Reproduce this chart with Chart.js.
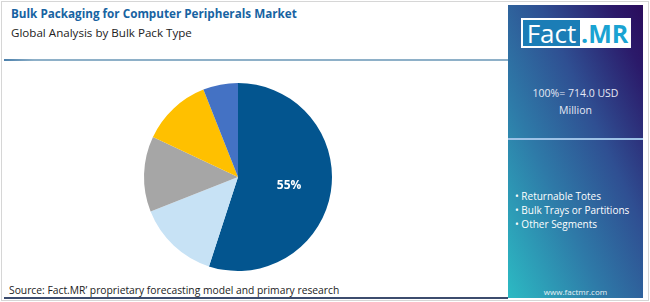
<!DOCTYPE html>
<html>
<head>
<meta charset="utf-8">
<script src="https://cdn.jsdelivr.net/npm/chart.js@4.4.0/dist/chart.umd.min.js"></script>
<style>
  html, body { margin: 0; padding: 0; background: #fff; }
  body { width: 650px; height: 302px; position: relative; overflow: hidden; font-family: 'Open Sans', sans-serif; }
  .frame { position: absolute; left: 1px; top: 1px; width: 646px; height: 298px; border: 1px solid #d6d6d6; }
  .title { position: absolute; left: 11px; top: 5px; font-size: 11.7px; font-weight: 700; color: #1763a2; white-space: nowrap; }
  .subtitle { position: absolute; left: 11px; top: 25px; font-size: 11.6px; color: #222; white-space: nowrap; }
  .rule { position: absolute; left: 4px; top: 59px; width: 504px; height: 2px; background: linear-gradient(to right, #4a7fab 0, #8eb0c8 30px, #8eb0c8 100%); }
  .source { position: absolute; left: 9px; top: 283px; font-size: 10.3px; color: #222; white-space: nowrap; }
  .bottom-rule { position: absolute; left: 4px; top: 297px; width: 504px; height: 2px; background: #3c4c6e; }
  .panel { position: absolute; left: 508px; top: 5px; width: 135px; height: 293px;
    background: linear-gradient(to top right, #2cbac3 0%, #2e7aa8 35%, #2f4f92 62%, #2b1a6a 88%, #2a0c5c 100%); }
  .sep { position: absolute; left: 0; top: 133px; width: 135px; height: 2px; background: #9ec2e6; }
  .logo { position: absolute; left: 13px; top: 13px; width: 110px; height: 30px; background: #fff; }
  .logo .fact { position: absolute; left: 2px; top: 2px; width: 57px; height: 26px; background: #1b7db6; color: #fff;
    font-size: 26px; line-height: 26px; text-align: center; }
  .logo .mr { position: absolute; left: 60px; top: 2px; height: 26px; color: #1aa3d2; font-size: 25px; line-height: 26px; font-weight: 700; }
  .total { position: absolute; left: 0; top: 80px; width: 135px; text-align: center; color: #e6e8f4; font-size: 10.5px; line-height: 17px; }
  .bullets { position: absolute; left: 7px; top: 184px; color: #fff; font-size: 10px; line-height: 14px; white-space: nowrap; }
  .web { position: absolute; left: 0; top: 281px; width: 135px; text-align: center; color: #e6f2f6; font-size: 8px; }
  .pie { position: absolute; left: 138px; top: 77px; width: 200px; height: 200px; }
</style>
</head>
<body>
<div class="frame"></div>
<div class="title">Bulk Packaging for Computer Peripherals Market</div>
<div class="subtitle">Global Analysis by Bulk Pack Type</div>
<div class="rule"></div>
<div class="pie"><canvas id="pie"></canvas></div>
<div class="source">Source: Fact.MR’ proprietary forecasting model and primary research</div>
<div class="bottom-rule"></div>
<div class="panel">
  <div class="logo"><div class="fact">Fact</div><div class="mr">.MR</div></div>
  <div class="total">100%= 714.0 USD<br>Million</div>
  <div class="sep"></div>
  <div class="bullets">• Returnable Totes<br>• Bulk Trays or Partitions<br>• Other Segments</div>
  <div class="web">www.factmr.com</div>
</div>
<script>
// ── Data ──
const segments = ['Returnable Totes', 'Bulk Trays or Partitions', 'Segment C', 'Segment D', 'Other Segments'];
const shares = [55, 14, 13, 12, 6];
const sliceColors = ['#03558f', '#c7e2f5', '#a6a6a6', '#ffc000', '#4472c4'];
const shownLabels = ['55%', '', '', '', ''];

// ── Label plugin: percentage on the big slice ──
const sliceLabels = {
  id: 'sliceLabels',
  afterDatasetsDraw(chart) {
    const ctx = chart.ctx;
    const meta = chart.getDatasetMeta(0);
    meta.data.forEach((arc, i) => {
      if (!shownLabels[i]) return;
      const mid = (arc.startAngle + arc.endAngle) / 2;
      const r = arc.outerRadius * 0.55;
      ctx.save();
      ctx.fillStyle = '#fff';
      ctx.font = 'bold 12px "Open Sans", sans-serif';
      ctx.textAlign = 'center';
      ctx.textBaseline = 'middle';
      ctx.fillText(shownLabels[i], arc.x + Math.cos(mid) * r, arc.y + Math.sin(mid) * r);
      ctx.restore();
    });
  }
};

new Chart(document.getElementById('pie'), {
  type: 'pie',
  data: {
    labels: segments,
    datasets: [{ data: shares, backgroundColor: sliceColors, borderWidth: 0 }]
  },
  options: {
    responsive: true,
    maintainAspectRatio: false,
    animation: false,
    layout: { padding: 6 },
    plugins: { legend: { display: false }, tooltip: { enabled: false } }
  },
  plugins: [sliceLabels]
});
</script>
</body>
</html>
